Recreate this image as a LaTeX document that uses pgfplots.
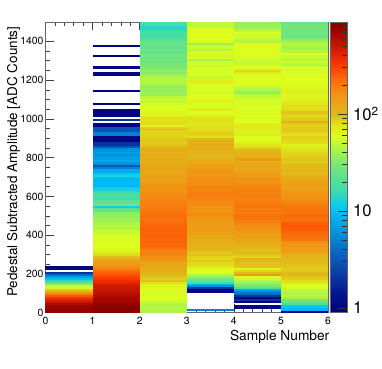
\documentclass[border=0pt]{standalone}
\usepackage{pgfplots}
\usepackage{pgfplotstable}
\usepackage{fontspec}
\setmainfont{TeX Gyre Heros}
\pgfplotsset{compat=1.18}

% one row per 10 ADC bin, counts per sample, 0 = empty bin
\pgfplotstableread{
y c0 c1 c2 c3 c4 c5
1495 0 0 18 50 36 26
1485 0 0 17 48 38 28
1475 0 0 14 50 38 28
1465 0 0 14 60 40 30
1455 0 0 16 62 52 28
1445 0 0 18 62 56 28
1435 0 0 18 60 56 27
1425 0 0 17 62 54 26
1415 0 0 18 62 55 27
1405 0 0 22 60 46 36
1395 0 0 24 58 44 42
1385 0 0 24 40 60 44
1375 0 1 25 52 62 44
1365 0 0 24 55 62 40
1355 0 0 26 46 60 44
1345 0 0 24 55 62 46
1335 0 0 26 58 62 60
1325 0 1 28 70 58 52
1315 0 0 26 56 55 50
1305 0 0 28 42 55 45
1295 0 0 26 56 52 55
1285 0 0 30 60 50 46
1275 0 0 32 48 60 42
1265 0 1 30 56 60 58
1255 0 0 32 58 68 60
1245 0 0 36 60 85 58
1235 0 1 34 56 72 56
1225 0 1 38 58 64 60
1215 0 0 42 50 62 62
1205 0 0 46 66 60 60
1195 0 0 44 70 62 62
1185 0 0 46 68 62 60
1175 0 0 40 62 58 58
1165 0 0 36 58 50 64
1155 0 0 38 56 45 68
1145 0 1 36 60 42 70
1135 0 0 40 54 35 68
1125 0 0 36 62 48 65
1115 0 0 48 60 50 66
1105 0 0 50 62 52 66
1095 0 0 52 66 58 70
1085 0 0 48 68 56 72
1075 0 1 56 60 54 76
1065 0 0 58 58 60 80
1055 0 0 62 66 60 78
1045 0 1 60 72 56 82
1035 0 1 64 60 62 92
1025 0 1 66 62 64 88
1015 0 1 68 72 58 82
1005 0 0 80 78 66 86
995 0 2 78 80 60 90
985 0 0 82 78 60 110
975 0 1 80 72 70 90
965 0 1 68 78 74 86
955 0 3 86 82 72 88
945 0 3 105 80 72 90
935 0 3 85 82 70 88
925 0 5 86 88 70 84
915 0 5 85 86 70 80
905 0 1 86 80 60 86
895 0 1 90 100 60 84
885 0 1 92 108 62 82
875 0 2 88 110 70 80
865 0 2 92 115 76 68
855 0 3 100 110 80 72
845 0 6 120 115 92 78
835 0 6 110 110 100 82
825 0 7 110 105 105 84
815 0 6 115 102 112 86
805 0 7 112 100 115 88
795 0 7 118 110 150 92
785 0 8 115 120 140 92
775 0 7 110 118 118 90
765 0 6 118 130 125 94
755 0 3 124 135 130 96
745 0 5 128 138 122 96
735 0 8 132 155 125 104
725 0 8 125 160 132 100
715 0 11 128 155 145 96
705 0 13 132 148 152 112
695 0 10 140 165 155 118
685 0 9 136 170 165 125
675 0 10 140 165 158 130
665 0 10 158 172 172 138
655 0 9 162 178 178 142
645 0 12 165 185 182 138
635 0 13 162 182 186 146
625 0 15 158 188 192 155
615 0 17 170 195 188 158
605 0 18 175 198 192 155
595 0 18 180 192 195 162
585 0 17 175 188 185 170
575 0 22 190 180 192 178
565 0 24 185 172 200 185
555 0 26 198 176 205 192
545 0 12 195 162 210 205
535 0 22 202 165 200 212
525 0 24 208 162 203 212
515 0 35 215 170 196 205
505 0 36 220 176 206 235
495 0 36 225 162 214 228
485 0 40 212 158 206 220
475 0 38 220 148 192 225
465 0 42 230 150 198 248
455 0 42 234 144 180 255
445 0 46 234 148 170 262
435 0 44 238 140 166 255
425 0 48 242 148 162 245
415 0 50 238 144 152 236
405 0 54 234 136 142 226
395 0 58 242 122 145 222
385 0 60 238 126 134 218
375 0 56 234 118 126 210
365 0 62 242 114 122 170
355 0 62 230 110 115 158
345 0 60 238 106 110 162
335 0 60 222 108 102 148
325 0 64 200 98 95 142
315 0 68 188 95 98 138
305 0 78 196 90 102 122
295 0 82 178 94 90 114
285 0 95 170 86 86 110
275 0 110 165 84 106 100
265 0 135 152 90 98 96
255 0 145 126 82 94 96
245 0 160 134 82 94 92
235 1 170 120 72 90 92
225 1 190 112 66 65 88
215 0 225 116 60 85 90
205 2 245 106 60 98 96
195 4 270 98 44 150 100
185 7 310 92 38 60 92
175 10 330 88 30 55 88
165 15 370 92 24 45 82
155 25 410 78 16 38 74
145 35 460 70 9 32 68
135 50 480 66 6 30 60
125 65 490 64 2 20 55
115 90 510 62 1 8 50
105 130 530 62 1 5 45
95 190 560 58 0 4 42
85 260 620 58 0 2 50
75 350 650 60 0 1 40
65 430 660 58 0 2 28
55 500 690 52 0 1 24
45 620 760 46 0 0 20
35 700 800 44 0 1 11
25 760 830 45 0 1 10
15 780 840 44 5 0 9
5 750 820 42 0 0 1
}\adcdata

% rectangle of one bin, one sample wide
\pgfdeclareplotmark{bin}{%
  \pgfpathrectanglecorners{\pgfpoint{-17.66pt}{-0.78pt}}{\pgfpoint{17.66pt}{0.78pt}}%
  \pgfusepathqfill
}

\begin{document}
\begin{tikzpicture}
\useasboundingbox (0,0) rectangle (286.5pt,276pt);
\begin{axis}[
    at={(34.1pt,41.5pt)},
    anchor=south west,
    scale only axis,
    width=211.9pt, height=218pt,
    xmin=0, xmax=6,
    ymin=0, ymax=1500,
    xtick={0,1,...,6},
    ytick={0,200,...,1400},
    minor x tick num=4,
    minor y tick num=3,
    tick align=inside,
    major tick length=6.2pt,
    minor tick length=3.1pt,
    tick style={black!75, line width=0.4pt},
    axis line style={black!60, line width=0.6pt},
    axis on top,
    tick label style={font=\fontsize{7.8}{9}\selectfont},
    /pgf/number format/assume math mode=true,
    /pgf/number format/set thousands separator={},
    xticklabel shift=0pt,
    yticklabel shift=-2pt,
    xlabel={Sample Number},
    ylabel={Pedestal Subtracted Amplitude [ADC Counts]},
    label style={font=\fontsize{10.3}{12}\selectfont},
    xlabel style={at={(axis description cs:1,0)}, anchor=north east, xshift=4.5pt, yshift=-9.5pt},
    ylabel style={at={(axis description cs:-0.113,1)}, anchor=east, font=\fontsize{10.1}{12}\selectfont},
    colormap={rootrainbow}{[1pt]
        rgb255(0pt)=(0,0,128); rgb255(6pt)=(0,20,140); rgb255(15pt)=(10,70,170);
        rgb255(25pt)=(0,130,210); rgb255(35pt)=(0,190,250); rgb255(37pt)=(10,205,235);
        rgb255(42pt)=(60,220,170); rgb255(51pt)=(120,230,120); rgb255(56pt)=(170,245,70);
        rgb255(61pt)=(220,255,30); rgb255(65pt)=(225,225,25); rgb255(68pt)=(225,185,25);
        rgb255(75pt)=(240,150,20); rgb255(80pt)=(250,110,10); rgb255(85pt)=(255,60,0);
        rgb255(90pt)=(215,30,0); rgb255(96pt)=(165,5,0); rgb255(100pt)=(128,0,0)
    },
    point meta min=-0.048,
    point meta max=2.948,
    colorbar,
    colorbar style={
        at={(1.007,1)}, anchor=north west,
        width=12.75pt,
        ytick={0,1,2},
        yticklabels={1,10,10\textsuperscript{2}},
        minor ytick={0.301,0.477,0.602,0.699,0.778,0.845,0.903,0.954,
                     1.301,1.477,1.602,1.699,1.778,1.845,1.903,1.954,
                     2.301,2.477,2.602,2.699,2.778,2.845,2.903},
        ytick pos=right,
        yticklabel pos=right,
        tick align=inside,
        major tick length=6.8pt,
        minor tick length=3.4pt,
        tick style={black!80, line width=0.4pt},
        axis line style={black!60, line width=0.5pt},
        yticklabel style={font=\fontsize{12.5}{14}\selectfont, anchor=west},
        yticklabel shift=1pt,
    },
]
\pgfplotsinvokeforeach{0,...,5}{
    \addplot[
        scatter, only marks, mark=bin,
        scatter/use mapped color={fill=mapped color, draw=none},
        point meta={log10(max(\thisrow{c#1},0.5))},
    ] table[x expr=#1+0.5, y expr={\thisrow{c#1}>0 ? \thisrow{y} : nan}] {\adcdata};
}
\end{axis}
\end{tikzpicture}
\end{document}
